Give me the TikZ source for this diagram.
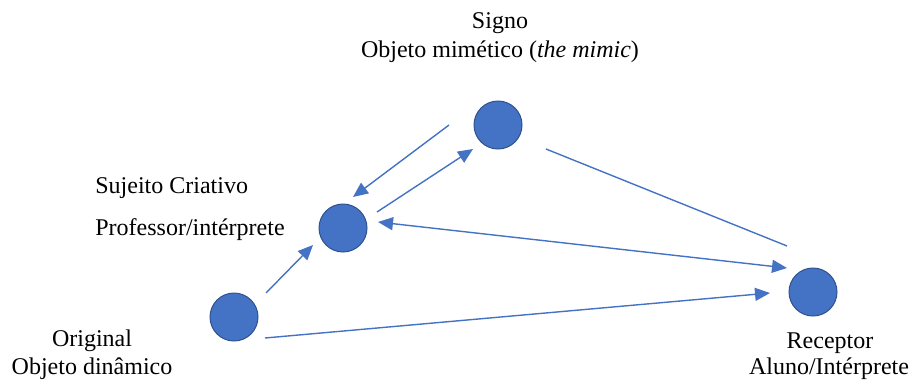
\documentclass[tikz,border=0pt]{standalone}
\usepackage{fontspec}
\setmainfont{Liberation Serif}
\usetikzlibrary{positioning,calc,arrows.meta}

\definecolor{dotblue}{HTML}{4472C4}
\definecolor{dotedge}{HTML}{2F528F}

\tikzset{
  dot/.style={circle, fill=dotblue, draw=dotedge, line width=0.5pt, minimum size=24pt, inner sep=0pt},
  lbl/.style={font=\fontsize{12}{14}\selectfont, inner sep=0pt, anchor=base},
  link/.style={dotblue, line width=0.7pt},
  tip/.style={-{Triangle[length=7.5pt,width=6.5pt]}},
  tips/.style={{Triangle[length=7.5pt,width=6.5pt]}-{Triangle[length=7.5pt,width=6.5pt]}}
}

\begin{document}
\begin{tikzpicture}[x=0.5pt, y=-0.5pt]
\useasboundingbox (0,0) rectangle (909,380);
% Nodes
\node[dot] (signo) at (498,125) {};
\node[dot] (prof) at (343,228) {};
\node[dot] (orig) at (234,317) {};
\node[dot] (recep) at (813,292) {};
% Labels
\node[lbl] (signoA) at (500,28) {Signo};
\node[lbl] (signoB) at (500,57) {Objeto mimético (\textit{the mimic})};
\node[lbl, anchor=base west] (profA) at (95,193) {Sujeito Criativo};
\node[lbl, anchor=base west] (profB) at (95,235) {Professor/intérprete};
\node[lbl] (origA) at (92,346) {Original};
\node[lbl] (origB) at (92,374) {Objeto dinâmico};
\node[lbl] (recepA) at (830,348) {Receptor};
\node[lbl] (recepB) at (829,374) {Aluno/Intérprete};
% Ends of the lines
\coordinate (s1) at ($(signo)+(-49,0)$);
\coordinate (p1) at ($(prof)+(10,-31)$);
\coordinate (p2) at ($(prof)+(34,-16)$);
\coordinate (s2) at ($(signo)+(-25,24)$);
\coordinate (s3) at ($(signo)+(48,24)$);
\coordinate (r3) at ($(recep)+(-26,-46)$);
\coordinate (p4) at ($(prof)+(35,-6)$);
\coordinate (r4) at ($(recep)+(-26,-24)$);
\coordinate (o5) at ($(orig)+(31,21)$);
\coordinate (r5) at ($(recep)+(-43,1)$);
\coordinate (o6) at ($(orig)+(32,-24)$);
\coordinate (p6) at ($(prof)+(-30,17)$);
% Lines
\draw[link, tip] (s1) -- (p1);
\draw[link, tip] (p2) -- (s2);
\draw[link] (s3) -- (r3);
\draw[link, tips] (p4) -- (r4);
\draw[link, tip] (o5) -- (r5);
\draw[link, tip] (o6) -- (p6);
\end{tikzpicture}
\end{document}
